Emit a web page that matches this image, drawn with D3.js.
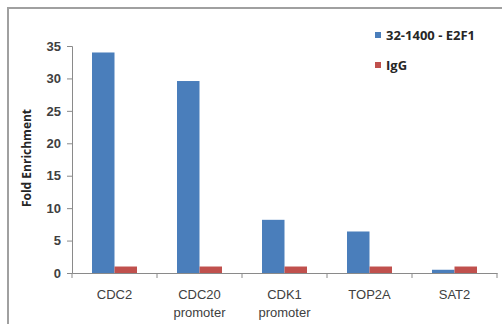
<!DOCTYPE html>
<meta charset="utf-8">
<title>Fold Enrichment</title>
<style>
body { margin: 0; background: #fff; }
svg { display: block; font-family: "Open Sans", "DejaVu Sans", sans-serif; }
</style>
<svg id="chart"></svg>
<script src="https://cdn.jsdelivr.net/npm/d3@7"></script>
<script>
// chart values
var categories = [["CDC2"], ["CDC20", "promoter"], ["CDK1", "promoter"], ["TOP2A"], ["SAT2"]]
var seriesNames = ["32-1400 - E2F1", "IgG"]
var e2f1 = [34, 29.6, 8.2, 6.4, 0.5]
var igg = [1, 1, 1, 1, 1]
var yTicks = [0, 5, 10, 15, 20, 25, 30, 35]
var colors = ["#4a7ebb", "#c0504d"]

var width = 502
var height = 324

var svg = d3.select('#chart')
.attr('width', width)
.attr('height', height)

// outer frame
svg.append('rect')
.attr('x', 8).attr('y', 8)
.attr('width', width + 10).attr('height', height + 10)
.attr('fill', 'none')
.attr('stroke', '#a0a0a0')
.attr('stroke-width', 2)

var x = d3.scaleBand()
.domain(d3.range(categories.length))
.range([72, 497])

var y = d3.scaleLinear()
.domain([0, 35])
.range([273, 46])

var groupPad = 20
var sub = d3.scaleBand()
.domain([0, 1])
.range([groupPad, x.bandwidth() - groupPad])

var data = categories.map(function(c, i) {
	return {cat: i, vals: [e2f1[i], igg[i]]}
})

// bars
var groups = svg.append('g').selectAll('g')
.data(data)
.enter().append('g')
.attr('transform', function(d) {return 'translate(' + x(d.cat) + ',0)'})

groups.selectAll('rect')
.data(function(d) {return d.vals.map(function(v, k) {return {k: k, v: v}})})
.enter().append('rect')
.attr('x', function(d) {return sub(d.k)})
.attr('width', sub.bandwidth())
.attr('y', function(d) {return y(d.v)})
.attr('height', function(d) {return y(0) - y(d.v)})
.attr('fill', function(d) {return colors[d.k]})

// y axis
var yAxis = svg.append('g')
.attr('transform', 'translate(72,0)')
.call(d3.axisLeft(y).tickValues(yTicks).tickSize(5).tickPadding(6))
yAxis.select('.domain').attr('stroke', '#8a8a8a')
yAxis.selectAll('line').attr('stroke', '#8a8a8a')
yAxis.selectAll('text')
.attr('font-size', 13)
.attr('fill', '#404040')
.attr('font-weight', 600)

// x axis
var xAxis = svg.append('g')
.attr('transform', 'translate(0,273)')
.call(d3.axisBottom(x).tickValues([]).tickSizeOuter(0))
xAxis.select('.domain').attr('stroke', '#8a8a8a')
xAxis.selectAll('.cat-tick')
.data(d3.range(categories.length + 1))
.enter().append('line')
.attr('x1', function(i) {return i < categories.length ? x(i) : x.range()[1]})
.attr('x2', function(i) {return i < categories.length ? x(i) : x.range()[1]})
.attr('y1', 0).attr('y2', 5)
.attr('stroke', '#8a8a8a')

var labels = xAxis.selectAll('.cat-label')
.data(categories)
.enter().append('text')
.attr('text-anchor', 'middle')
.attr('font-size', 13)
.attr('fill', '#404040')
.attr('transform', function(d, i) {return 'translate(' + (x(i) + x.bandwidth() / 2) + ',0)'})
labels.selectAll('tspan')
.data(function(d) {return d})
.enter().append('tspan')
.attr('x', 0)
.attr('y', function(d, j) {return 26 + j * 18})
.text(function(d) {return d})

// y label
svg.append('text')
.attr('transform', 'translate(31,158) rotate(-90)')
.attr('text-anchor', 'middle')
.attr('font-size', 12)
.attr('font-weight', 'bold')
.attr('fill', '#262626')
.text('Fold Enrichment')

// legend
var legend = svg.append('g').selectAll('g')
.data(seriesNames)
.enter().append('g')
.attr('transform', function(d, i) {return 'translate(375,' + (32 + i * 30) + ')'})
legend.append('rect')
.attr('width', 6).attr('height', 6)
.attr('fill', function(d, i) {return colors[i]})
legend.append('text')
.attr('x', 11).attr('y', 8)
.attr('font-size', 13)
.attr('font-weight', 'bold')
.attr('fill', '#262626')
.text(function(d) {return d})
</script>
